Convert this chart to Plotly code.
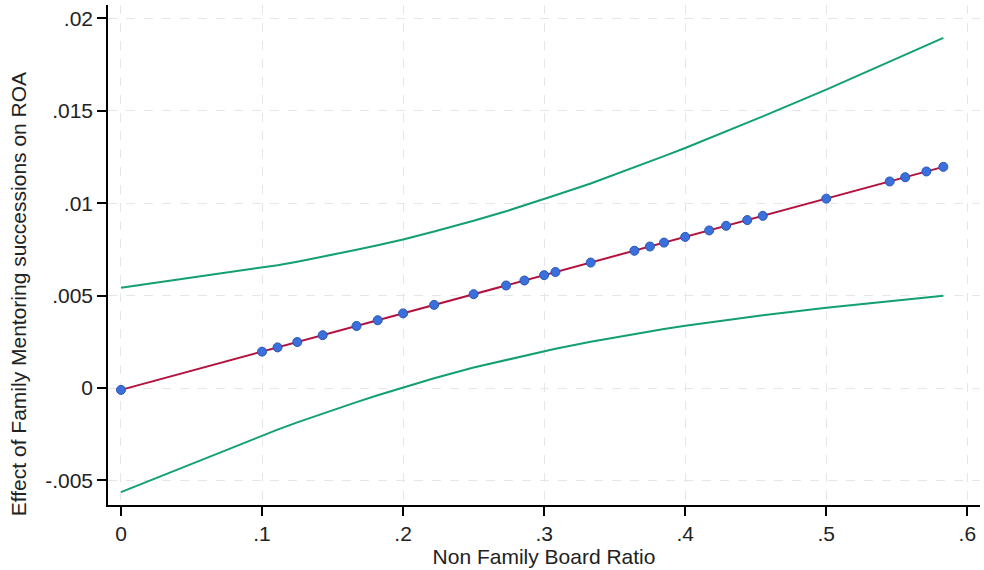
import plotly.graph_objects as go

board_ratio = [0, 0.1, 0.111, 0.125, 0.143, 0.167, 0.182, 0.2, 0.222, 0.25, 0.273, 0.286,
               0.3, 0.308, 0.333, 0.364, 0.375, 0.385, 0.4, 0.417, 0.429, 0.444, 0.455,
               0.5, 0.545, 0.556, 0.571, 0.583]
effect = [-0.0001, 0.00197, 0.00220, 0.00249, 0.00286, 0.00336, 0.00367, 0.00404, 0.00450,
          0.00508, 0.00555, 0.00582, 0.00611, 0.00628, 0.00679, 0.00743, 0.00766, 0.00787,
          0.00818, 0.00853, 0.00878, 0.00909, 0.00932, 0.01025, 0.01118, 0.01141, 0.01172,
          0.01197]
upper_ci = [0.00543, 0.00651, 0.00665, 0.00684, 0.00710, 0.00748, 0.00773, 0.00804, 0.00847,
            0.00905, 0.00957, 0.00988, 0.01022, 0.01043, 0.01107, 0.01193, 0.01225, 0.01255,
            0.01299, 0.01351, 0.01388, 0.01435, 0.01470, 0.01615, 0.01765, 0.01803, 0.01853,
            0.01895]
lower_ci = [-0.00563, -0.00257, -0.00225, -0.00186, -0.00138, -0.00076, -0.00039, 0.00004,
            0.00053, 0.00111, 0.00153, 0.00176, 0.00200, 0.00213, 0.00251, 0.00293, 0.00307,
            0.00319, 0.00337, 0.00355, 0.00368, 0.00383, 0.00394, 0.00435, 0.00471, 0.00479,
            0.00491, 0.00499]

x_ticks = [0, 0.1, 0.2, 0.3, 0.4, 0.5, 0.6]
x_ticklabels = ["0", ".1", ".2", ".3", ".4", ".5", ".6"]
y_ticks = [-0.005, 0, 0.005, 0.01, 0.015, 0.02]
y_ticklabels = ["-.005", "0", ".005", ".01", ".015", ".02"]
x_title = "Non Family Board Ratio"
y_title = "Effect of Family Mentoring successions on ROA"

green = "#12a06e"
fig = go.Figure()
fig.add_trace(go.Scatter(x=board_ratio, y=upper_ci, mode="lines",
                         line=dict(color=green, width=2), showlegend=False))
fig.add_trace(go.Scatter(x=board_ratio, y=lower_ci, mode="lines",
                         line=dict(color=green, width=2), showlegend=False))
fig.add_trace(go.Scatter(x=board_ratio, y=effect, mode="lines+markers",
                         line=dict(color="#b3123e", width=2),
                         marker=dict(color="#3a6fdc", size=9,
                                     line=dict(color="#2a55b8", width=1)),
                         showlegend=False))

font = "Liberation Sans, Arial, sans-serif"
fig.update_layout(
    width=984, height=570,
    margin=dict(l=108, r=4, t=5, b=65),
    paper_bgcolor="white", plot_bgcolor="white",
    font=dict(family=font, size=21, color="#222"),
    xaxis=dict(range=[-0.0092, 0.609], tickvals=x_ticks, ticktext=x_ticklabels,
               automargin=False,
               showline=True, linecolor="black", linewidth=1.5,
               ticks="outside", ticklen=9, tickcolor="black", tickwidth=1.5,
               tickfont=dict(size=21),
               showgrid=True, gridcolor="#e6e6e6", griddash="dash", gridwidth=1,
               zeroline=False,
               title=dict(text=x_title, font=dict(size=21), standoff=4)),
    yaxis=dict(range=[-0.00633, 0.02073], tickvals=y_ticks, ticktext=y_ticklabels,
               automargin=False,
               showline=True, linecolor="black", linewidth=1.5,
               ticks="outside", ticklen=9, tickcolor="black", tickwidth=1.5,
               tickfont=dict(size=21),
               showgrid=True, gridcolor="#e6e6e6", griddash="dash", gridwidth=1,
               zeroline=False),
    annotations=[dict(text=y_title, xref="paper", yref="paper",
                      x=-0.103, y=0.422, xanchor="center", yanchor="middle",
                      textangle=-90, showarrow=False, font=dict(size=21))],
)
fig.write_html("out.html", config={"displayModeBar": False},
               post_script="document.body.style.margin='0';document.body.style.padding='0';")
